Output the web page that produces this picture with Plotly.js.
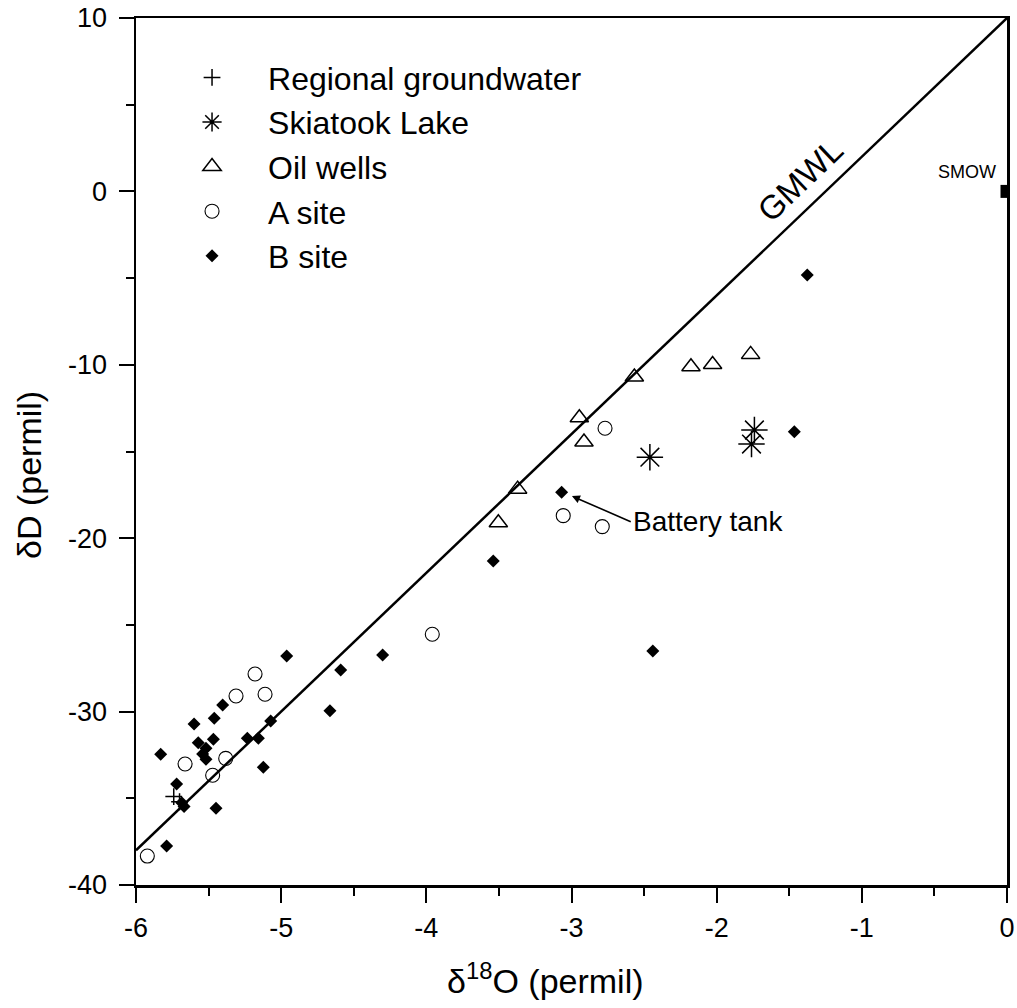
<!DOCTYPE html>
<html>
<head>
<meta charset="utf-8">
<script src="https://cdn.plot.ly/plotly-3.0.1.min.js"></script>
<style>html,body{margin:0;padding:0;background:#fff}</style>
</head>
<body>
<div id="chart" style="width:1017px;height:1008px"></div>
<script>
// ---- data (delta18O, deltaD in permil) ----
const regionalX = [-5.74, -5.70];
const regionalY = [-34.9, -35.2];

const lakeX = [-2.46, -1.74, -1.76];
const lakeY = [-15.33, -13.76, -14.57];

const oilX = [-2.567, -2.946, -2.914, -3.371, -3.504, -2.177, -2.028, -1.766];
const oilY = [-10.7, -13.05, -14.45, -17.17, -19.11, -10.11, -9.98, -9.40];

const aSiteX = [-5.180, -5.311, -5.111, -5.662, -5.382, -5.472, -5.922, -3.959, -2.769, -3.057, -2.788];
const aSiteY = [-27.83, -29.10, -29.00, -33.02, -32.70, -33.67, -38.33, -25.54, -13.66, -18.70, -19.33];

const bSiteX = [-4.962, -4.664, -5.403, -5.461, -5.600, -5.072, -5.467, -5.571, -5.518, -5.541, -5.518,
                -5.233, -5.157, -5.830, -5.123, -5.720, -5.685, -5.669, -5.449, -5.789,
                -3.539, -4.301, -4.590, -3.068, -1.376, -1.465, -2.44];
const bSiteY = [-26.79, -29.95, -29.62, -30.39, -30.71, -30.54, -31.60, -31.79, -32.12, -32.45, -32.75,
                -31.54, -31.54, -32.46, -33.21, -34.18, -35.25, -35.48, -35.58, -37.75,
                -21.32, -26.74, -27.60, -17.35, -4.82, -13.86, -26.5];

const gmwlX = [-6, 0];
const gmwlY = [-38, 10];

const smowX = [0];
const smowY = [0];

const xTickVals = [-6, -5, -4, -3, -2, -1, 0];
const xTickText = ['-6', '-5', '-4', '-3', '-2', '-1', '0'];
const yTickVals = [-40, -30, -20, -10, 0, 10];
const yTickText = ['-40', '-30', '-20', '-10', '0', '10'];

const seriesNames = ['Regional groundwater', 'Skiatook Lake', 'Oil wells', 'A site', 'B site'];

// ---- chart ----
const FONT = 'Arial, "Liberation Sans", sans-serif';
const BLACK = '#000000';

const traces = [
  {x: regionalX, y: regionalY, name: seriesNames[0], type: 'scatter', mode: 'markers',
   marker: {symbol: 'cross-thin-open', size: 12, color: BLACK, line: {color: BLACK, width: 1.5}}},
  {x: lakeX, y: lakeY, name: seriesNames[1], type: 'scatter', mode: 'markers',
   marker: {symbol: 'asterisk-open', size: 22, color: BLACK, line: {color: BLACK, width: 1.5}}},
  {x: oilX, y: oilY, name: seriesNames[2], type: 'scatter', mode: 'markers',
   marker: {symbol: 'triangle-up-open', size: 16, color: BLACK, line: {color: BLACK, width: 1.5}}},
  {x: aSiteX, y: aSiteY, name: seriesNames[3], type: 'scatter', mode: 'markers',
   marker: {symbol: 'circle-open', size: 14, color: BLACK, line: {color: BLACK, width: 1.1}}},
  {x: bSiteX, y: bSiteY, name: seriesNames[4], type: 'scatter', mode: 'markers',
   marker: {symbol: 'diamond', size: 10, color: BLACK, line: {width: 0}}},
  {x: gmwlX, y: gmwlY, name: 'GMWL', type: 'scatter', mode: 'lines', showlegend: false,
   line: {color: BLACK, width: 2.5}, hoverinfo: 'skip'},
  {x: smowX, y: smowY, name: 'SMOW', type: 'scatter', mode: 'markers', showlegend: false,
   cliponaxis: true, marker: {symbol: 'square', size: 13, color: BLACK}}
];

const axisCommon = {
  showgrid: false, zeroline: false, showline: true, mirror: true,
  linecolor: BLACK, linewidth: 2.5,
  ticks: 'outside', ticklen: 15, tickwidth: 2, tickcolor: BLACK,
  tickfont: {family: FONT, size: 27, color: BLACK},
  tickmode: 'array'
};

const layout = {
  width: 1017, height: 1008,
  margin: {l: 136, r: 10, t: 18, b: 123},
  paper_bgcolor: '#ffffff', plot_bgcolor: '#ffffff',
  font: {family: FONT, color: BLACK},
  showlegend: true,
  legend: {
    x: 0.023, y: 0.963, xanchor: 'left', yanchor: 'top',
    bgcolor: 'rgba(0,0,0,0)', borderwidth: 0,
    font: {family: FONT, size: 32, color: BLACK},
    itemwidth: 102, tracegroupgap: 0
  },
  xaxis: Object.assign({}, axisCommon, {
    range: [-6, 0], tickvals: xTickVals, ticktext: xTickText,
    ticklabelstandoff: 2,
    minor: {tickmode: 'linear', tick0: -6, dtick: 0.5, ticks: 'outside', ticklen: 8, tickwidth: 2, tickcolor: BLACK, showgrid: false}
  }),
  yaxis: Object.assign({}, axisCommon, {
    range: [-40, 10], tickvals: yTickVals, ticktext: yTickText,
    ticklabelstandoff: 6,
    minor: {tickmode: 'linear', tick0: -40, dtick: 5, ticks: 'outside', ticklen: 8, tickwidth: 2, tickcolor: BLACK, showgrid: false}
  }),
  annotations: [
    {text: 'δ<sup>18</sup>O (permil)', xref: 'paper', yref: 'paper', x: 0.4696, y: -0.1073,
     xanchor: 'center', yanchor: 'middle', showarrow: false, font: {family: FONT, size: 34, color: BLACK}},
    {text: 'δD (permil)', xref: 'paper', yref: 'paper', x: -0.1228, y: 0.473, textangle: -90,
     xanchor: 'center', yanchor: 'middle', showarrow: false, font: {family: FONT, size: 34, color: BLACK}},
    {text: 'GMWL', xref: 'x', yref: 'y', x: -1.42, y: 0.66, textangle: -43.7,
     xanchor: 'center', yanchor: 'middle', showarrow: false, font: {family: FONT, size: 33, color: BLACK}},
    {text: 'SMOW', xref: 'x', yref: 'y', x: -0.062, y: 1.12,
     xanchor: 'right', yanchor: 'middle', showarrow: false, font: {family: FONT, size: 18, color: BLACK}},
    {text: 'Battery tank', xref: 'x', yref: 'y', x: -2.997, y: -17.57,
     axref: 'x', ayref: 'y', ax: -2.592, ay: -19.05,
     xanchor: 'left', yanchor: 'middle', showarrow: true,
     arrowhead: 2, arrowsize: 1, arrowwidth: 1.6, arrowcolor: BLACK, standoff: 0,
     font: {family: FONT, size: 28, color: BLACK}}
  ]
};

Plotly.newPlot('chart', traces, layout, {displayModeBar: false, staticPlot: true});
</script>
</body>
</html>
